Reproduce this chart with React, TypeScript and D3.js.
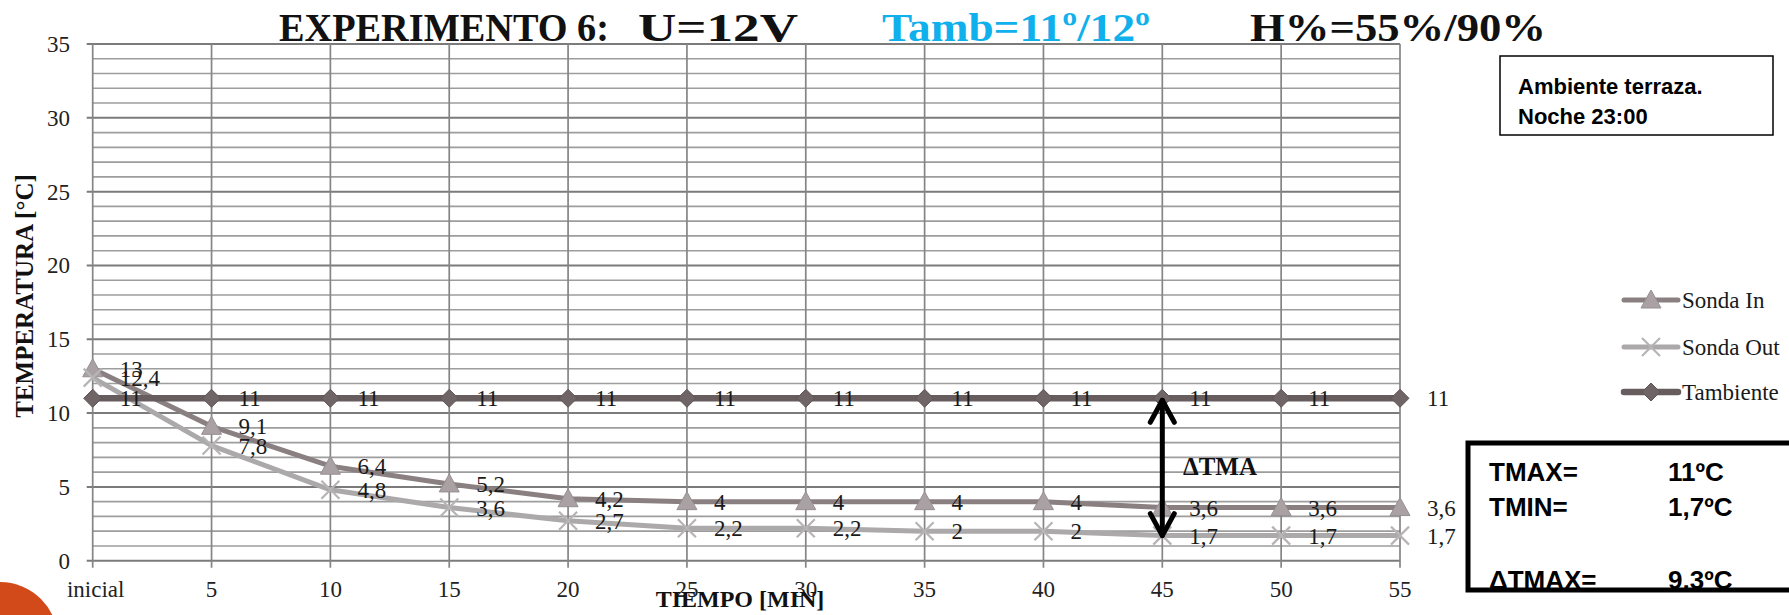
import React from "react";
import * as d3 from "d3";

// Time categories (minutes)
const categories = ["inicial", "5", "10", "15", "20", "25", "30", "35", "40", "45", "50", "55"];

// Temperatures in °C
const sondaIn = [13, 9.1, 6.4, 5.2, 4.2, 4, 4, 4, 4, 3.6, 3.6, 3.6];
const sondaOut = [12.4, 7.8, 4.8, 3.6, 2.7, 2.2, 2.2, 2, 2, 1.7, 1.7, 1.7];
const tambiente = [11, 11, 11, 11, 11, 11, 11, 11, 11, 11, 11, 11];

const yTicks = [0, 5, 10, 15, 20, 25, 30, 35];
const seriesNames = ["Sonda In", "Sonda Out", "Tambiente"];

// Summary values
const tMax = 11;
const tMin = 1.7;
const deltaIndex = 9; // minute 45

const W = 1789;
const H = 615;
const serif = "'Liberation Serif', 'DejaVu Serif', serif";
const sans = "'Liberation Sans', Arial, sans-serif";

const fmt = (v: number) => String(v).replace(".", ",");

const colors = {
  in: "#8a8082",
  inMarker: "#a9a1a3",
  out: "#aba9aa",
  outMarker: "#b6b4b5",
  amb: "#675d5f",
  ambMarker: "#6f6567",
};

const triPath = "M0,-10 L10,8 L-10,8 Z";
const diamondPath = "M0,-9 L9,0 L0,9 L-9,0 Z";
const xPath = "M-9,-9 L9,9 M-9,9 L9,-9";

export default function App() {
  const x = d3.scalePoint<string>().domain(categories).range([92.7, 1400]);
  const y = d3.scaleLinear().domain([0, 35]).range([560.7, 44]);

  const line = d3
    .line<number>()
    .x((_, i) => x(categories[i]) as number)
    .y((d) => y(d));

  const minorTicks = d3.range(0, 36);
  const xLeft = x(categories[0]) as number;
  const xRight = x(categories[categories.length - 1]) as number;

  const series = [
    { name: seriesNames[0], data: sondaIn, color: colors.in, mColor: colors.inMarker, width: 5, marker: "tri" },
    { name: seriesNames[1], data: sondaOut, color: colors.out, mColor: colors.outMarker, width: 5, marker: "x" },
    { name: seriesNames[2], data: tambiente, color: colors.amb, mColor: colors.ambMarker, width: 6.5, marker: "dia" },
  ];

  const renderMarker = (kind: string, cx: number, cy: number, col: string, key: string) => {
    if (kind === "tri")
      return <path key={key} d={triPath} transform={`translate(${cx},${cy})`} fill={col} stroke="#978f91" strokeWidth={1} />;
    if (kind === "dia")
      return <path key={key} d={diamondPath} transform={`translate(${cx},${cy})`} fill={col} stroke="#5e5456" strokeWidth={1} />;
    return <path key={key} d={xPath} transform={`translate(${cx},${cy})`} fill="none" stroke={col} strokeWidth={2.2} />;
  };

  const arrowX = x(categories[deltaIndex]) as number;
  const aTop = y(tMax) + 2;
  const aBot = y(tMin);

  return (
    <svg
      width={W}
      height={H}
      style={{ position: "absolute", left: 0, top: 0, display: "block", background: "#fff" }}
    >
      <defs>
        <clipPath id="boxClip">
          <rect x={1468} y={443} width={330} height={147} />
        </clipPath>
      </defs>

      {/* horizontal gridlines */}
      {minorTicks.map((t) => (
        <line
          key={"h" + t}
          x1={t % 5 === 0 ? xLeft - 6 : xLeft}
          x2={xRight}
          y1={y(t)}
          y2={y(t)}
          stroke={t % 5 === 0 ? "#7b7b7b" : "#9d9d9d"}
          strokeWidth={t % 5 === 0 ? 2 : 1.6}
        />
      ))}
      {/* vertical gridlines */}
      {categories.map((c) => (
        <line key={"v" + c} x1={x(c)} x2={x(c)} y1={y(35)} y2={y(0) + 7} stroke="#858585" strokeWidth={1.7} />
      ))}

      {/* y tick labels */}
      {yTicks.map((t) => (
        <text key={"yt" + t} x={70} y={y(t)} dy="0.35em" textAnchor="end" fontFamily={serif} fontSize={23} fill="#222">
          {t}
        </text>
      ))}
      {/* x tick labels */}
      {categories.map((c) => (
        <text key={"xt" + c} x={(x(c) as number) + (c === "inicial" ? 3 : 0)} y={597} textAnchor="middle" fontFamily={serif} fontSize={23} fill="#222">
          {c}
        </text>
      ))}

      {/* axis titles */}
      <text x={740} y={607} textAnchor="middle" fontFamily={serif} fontWeight="bold" fontSize={24} fill="#111">
        TIEMPO [MIN]
      </text>
      <text
        transform="translate(33,296) rotate(-90)"
        textAnchor="middle"
        fontFamily={serif}
        fontWeight="bold"
        fontSize={25}
        fill="#111"
      >
        TEMPERATURA [°C]
      </text>

      {/* series lines */}
      {series.map((s) => (
        <path key={"l" + s.name} d={line(s.data) as string} fill="none" stroke={s.color} strokeWidth={s.width} strokeLinejoin="round" />
      ))}
      {/* markers */}
      {series.map((s) =>
        s.data.map((v, i) => renderMarker(s.marker, x(categories[i]) as number, y(v), s.mColor, s.name + i))
      )}

      {/* data labels */}
      {series.map((s) =>
        s.data.map((v, i) => (
          <text
            key={"dl" + s.name + i}
            x={(x(categories[i]) as number) + 27}
            y={y(v)}
            dy="0.35em"
            fontFamily={serif}
            fontSize={23}
            fill="#1a1a1a"
          >
            {fmt(v)}
          </text>
        ))
      )}

      {/* delta arrow */}
      <g stroke="#000" strokeWidth={5} fill="none" strokeLinecap="round" strokeLinejoin="round">
        <line x1={arrowX} x2={arrowX} y1={aTop} y2={aBot} />
        <path d={`M${arrowX - 12},${aTop + 22} L${arrowX},${aTop} L${arrowX + 12},${aTop + 22}`} />
        <path d={`M${arrowX - 12},${aBot - 22} L${arrowX},${aBot} L${arrowX + 12},${aBot - 22}`} />
      </g>
      <text x={1183} y={475} fontFamily={serif} fontWeight="bold" fontSize={25} fill="#111">
        ΔTMA
      </text>

      {/* title */}
      <g fontFamily={serif} fontWeight="bold" fontSize={41}>
        <text x={279} y={41} fill="#111" textLength={330} lengthAdjust="spacingAndGlyphs">EXPERIMENTO 6:</text>
        <text x={638} y={41} fill="#111" textLength={160} lengthAdjust="spacingAndGlyphs">U=12V</text>
        <text x={882} y={41} fill="#0fb0ec" textLength={268} lengthAdjust="spacingAndGlyphs">Tamb=11º/12º</text>
        <text x={1250} y={41} fill="#111" textLength={296} lengthAdjust="spacingAndGlyphs">H%=55%/90%</text>
      </g>

      {/* legend */}
      {series.map((s, i) => {
        const ly = [300, 347, 392][i];
        return (
          <g key={"lg" + s.name}>
            <line x1={1624} x2={1678} y1={ly} y2={ly} stroke={s.color} strokeWidth={s.width} strokeLinecap="round" />
            {renderMarker(s.marker, 1651, ly, s.mColor, "lgm" + i)}
            <text x={1682} y={ly} dy="0.35em" fontFamily={serif} fontSize={23} fill="#1a1a1a">
              {s.name}
            </text>
          </g>
        );
      })}

      {/* note box */}
      <rect x={1500} y={56} width={273} height={79} fill="#fff" stroke="#000" strokeWidth={1.5} />
      <g fontFamily={sans} fontWeight="bold" fontSize={22} fill="#000">
        <text x={1518} y={94}>Ambiente terraza.</text>
        <text x={1518} y={124}>Noche 23:00</text>
      </g>

      {/* summary box */}
      <g clipPath="url(#boxClip)" fontFamily={sans} fontWeight="bold" fontSize={26} fill="#000">
        <text x={1489} y={481}>TMAX=</text>
        <text x={1668} y={481}>{fmt(tMax)}ºC</text>
        <text x={1489} y={516}>TMIN=</text>
        <text x={1668} y={516}>{fmt(tMin)}ºC</text>
        <text x={1489} y={589}>ΔTMAX=</text>
        <text x={1668} y={589}>{fmt(+(tMax - tMin).toFixed(1))}ºC</text>
      </g>
      <rect x={1468} y={443} width={340} height={147} fill="none" stroke="#000" strokeWidth={5} />

      {/* corner decoration */}
      <circle cx={0} cy={640} r={58} fill="#d24a1a" />
    </svg>
  );
}
